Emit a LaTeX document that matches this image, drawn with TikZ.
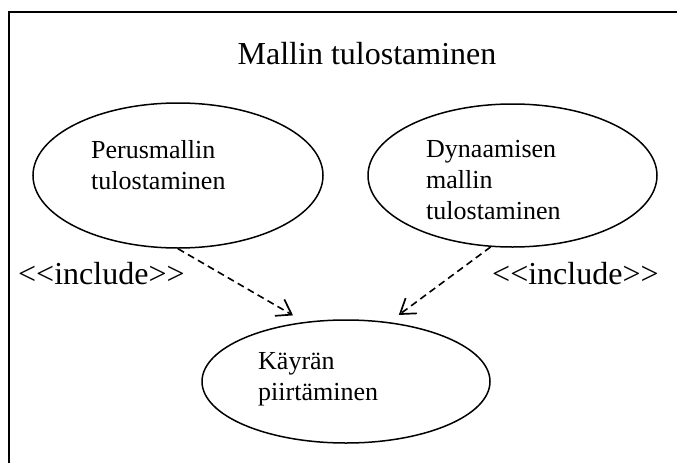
\documentclass[tikz,border=0pt]{standalone}
\usepackage{fontspec}
\setmainfont{Liberation Serif}
\usetikzlibrary{shapes.geometric,arrows.meta}

\begin{document}
\begin{tikzpicture}[x=1pt,y=-1pt,
  usecase/.style={draw, ellipse, line width=1.5pt, inner sep=0pt},
  uclabel/.style={anchor=base west, inner sep=0pt, align=left,
    font=\fontsize{26}{31}\selectfont},
  stereo/.style={anchor=base west, inner sep=0pt,
    font=\fontsize{32}{36}\selectfont},
  includes/.style={dash pattern=on 7pt off 4.5pt, line width=1.6pt,
    -{Straight Barb[length=14pt,width=19pt,line width=1.7pt]}}]
  \useasboundingbox (0,0) rectangle (677,463);

  % system boundary (runs off to the right and bottom)
  \draw[line width=2pt] (9,463) -- (9,11.5) -- (677,11.5);
  \node[anchor=base, inner sep=0pt, font=\fontsize{32}{36}\selectfont]
    (title) at (367,64) {Mallin tulostaminen};

  % use cases
  \node[usecase, minimum width=290pt, minimum height=145pt] (perus) at (178,175.5) {};
  \node[usecase, minimum width=289pt, minimum height=143pt] (dyn) at (512.5,175.5) {};
  \node[usecase, minimum width=288pt, minimum height=123pt] (kayra) at (346,381.5) {};

  % labels are anchored on the baseline of their last line
  \node[uclabel] (perusT) at (91,189) {Perusmallin\\tulostaminen};
  \node[uclabel] (dynT) at (426,219) {Dynaamisen\\mallin\\tulostaminen};
  \node[uclabel] (kayraT) at (258,400) {Käyrän\\piirtäminen};

  % include relations
  \draw[includes, shorten >=13pt] (perus.south) -- (kayra.125);
  \draw[includes, shorten >=12pt] (dyn.253) -- (kayra.54);

  \node[stereo] (incL) at (18,284) {{<}{<}include{>}{>}};
  \node[stereo] (incR) at (492,284) {{<}{<}include{>}{>}};
\end{tikzpicture}
\end{document}
